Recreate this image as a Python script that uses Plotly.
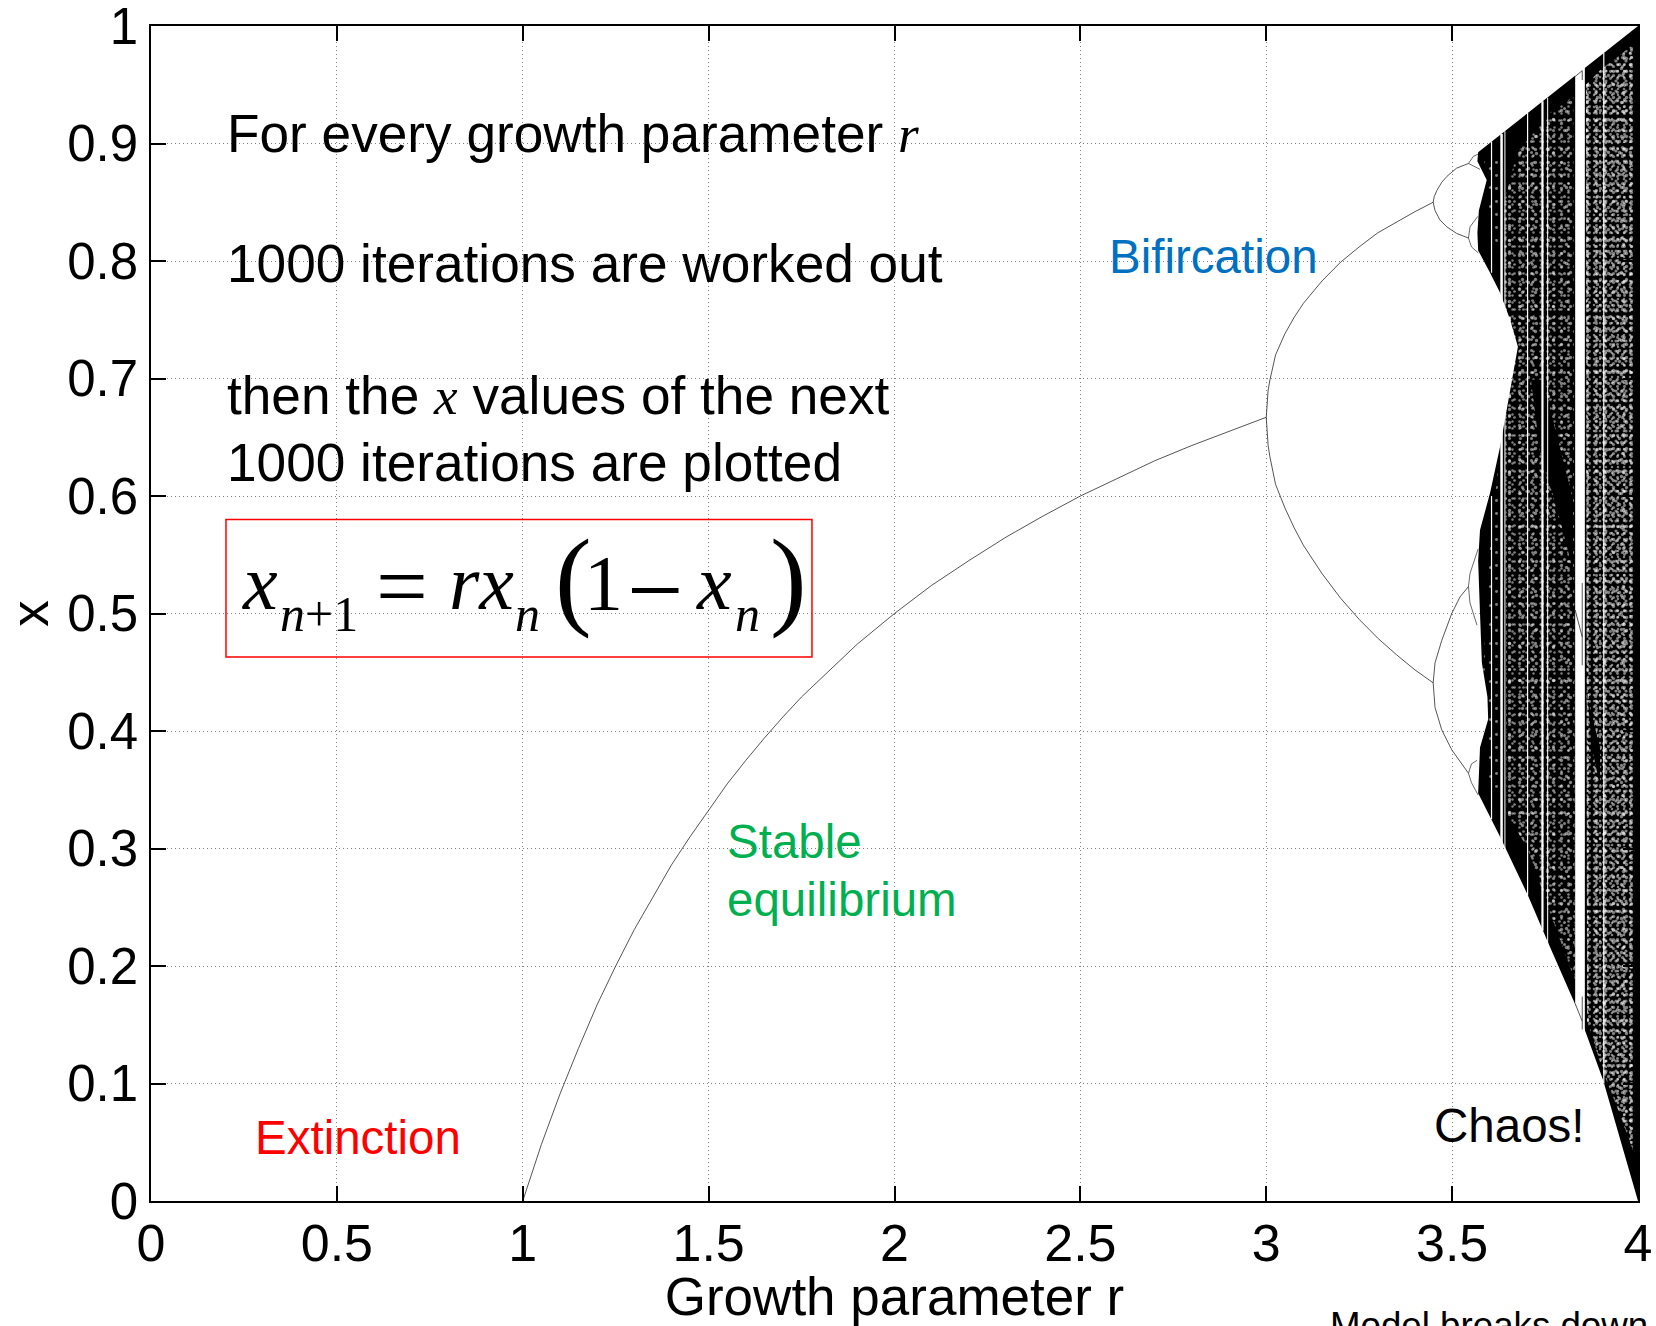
import plotly.graph_objects as go

FONT = "Liberation Sans"
SERIF = "Liberation Serif"

x_ticks = [0, 0.5, 1, 1.5, 2, 2.5, 3, 3.5, 4]
x_labels = ["0", "0.5", "1", "1.5", "2", "2.5", "3", "3.5", "4"]
y_ticks = [0, 0.1, 0.2, 0.3, 0.4, 0.5, 0.6, 0.7, 0.8, 0.9, 1]
y_labels = ["0", "0.1", "0.2", "0.3", "0.4", "0.5", "0.6", "0.7", "0.8", "0.9", "1"]

# stable equilibrium
stable_r = [1, 1.02, 1.05, 1.1, 1.15, 1.2, 1.25, 1.3, 1.35, 1.4, 1.45, 1.5, 1.55, 1.6, 1.65, 1.7, 1.75, 1.8, 1.85,
            1.9, 1.95, 2, 2.1, 2.2, 2.3, 2.4, 2.5, 2.6, 2.7, 2.8, 2.9, 3]
stable_x = [0, 0.02, 0.048, 0.091, 0.13, 0.167, 0.2, 0.231, 0.259, 0.286, 0.31, 0.333, 0.355, 0.375, 0.394, 0.412,
            0.429, 0.444, 0.459, 0.474, 0.487, 0.5, 0.524, 0.545, 0.565, 0.583, 0.6, 0.615, 0.63, 0.643, 0.655, 0.667]

# first split
fork_up_r = [3, 3.002, 3.005, 3.01, 3.025, 3.05, 3.075, 3.1, 3.15, 3.2, 3.25, 3.3, 3.35, 3.4, 3.449]
fork_up_x = [0.667, 0.682, 0.69, 0.699, 0.72, 0.738, 0.752, 0.764, 0.783, 0.799, 0.812, 0.824, 0.833, 0.842, 0.85]
fork_lo_r = [3, 3.002, 3.005, 3.01, 3.025, 3.05, 3.075, 3.1, 3.15, 3.2, 3.25, 3.3, 3.35, 3.4, 3.449]
fork_lo_x = [0.667, 0.651, 0.643, 0.633, 0.61, 0.59, 0.573, 0.558, 0.534, 0.513, 0.495, 0.479, 0.465, 0.452, 0.441]

# second split, four arcs
arc_a_r = [3.449, 3.452, 3.459, 3.472, 3.486, 3.512, 3.544]
arc_a_x = [0.85, 0.855, 0.86, 0.867, 0.872, 0.879, 0.883]
arc_b_r = [3.449, 3.454, 3.467, 3.486, 3.512, 3.544]
arc_b_x = [0.85, 0.843, 0.835, 0.829, 0.8235, 0.8195]
arc_c_r = [3.449, 3.454, 3.472, 3.499, 3.521, 3.544]
arc_c_x = [0.441, 0.458, 0.477, 0.5, 0.514, 0.523]
arc_d_r = [3.449, 3.454, 3.472, 3.499, 3.544]
arc_d_x = [0.441, 0.42, 0.401, 0.384, 0.364]

# third split, eight small arcs
twig_r = [
    [3.544, 3.557, 3.57], [3.544, 3.557, 3.575],
    [3.544, 3.548, 3.569], [3.544, 3.552, 3.57],
    [3.544, 3.548, 3.57], [3.544, 3.548, 3.567],
    [3.544, 3.552, 3.567], [3.544, 3.552, 3.57],
]
twig_x = [
    [0.883, 0.889, 0.891], [0.883, 0.881, 0.878],
    [0.8195, 0.829, 0.838], [0.8195, 0.812, 0.807],
    [0.523, 0.534, 0.555], [0.523, 0.509, 0.49],
    [0.364, 0.372, 0.375], [0.364, 0.356, 0.3455],
]

# outline of the chaotic region
chaos_r = [3.57, 4, 4, 3.906, 3.857, 3.83, 3.758, 3.704, 3.629, 3.602, 3.57, 3.575,
           3.597, 3.595, 3.58, 3.575, 3.57, 3.575, 3.602, 3.629, 3.656, 3.677, 3.656,
           3.629, 3.602, 3.57, 3.568, 3.572, 3.593, 3.575, 3.568]
chaos_x = [0.8925, 1, 0, 0.103, 0.1455, 0.168, 0.22, 0.26, 0.31, 0.327, 0.347, 0.386,
           0.41, 0.429, 0.458, 0.5, 0.545, 0.571, 0.6025, 0.642, 0.69, 0.727, 0.75,
           0.773, 0.79, 0.809, 0.824, 0.843, 0.869, 0.88, 0.885]

# speckled parts
sparse_r = [3.585, 3.64, 3.64, 3.6, 3.58, 3.6, 3.63, 3.66, 3.67, 3.6]
sparse_x = [0.89, 0.89, 0.33, 0.36, 0.43, 0.55, 0.645, 0.70, 0.74, 0.84]
mid_r = [3.64, 3.674, 3.763, 3.826, 3.83, 3.758, 3.703, 3.647]
mid_x = [0.85, 0.892, 0.926, 0.94, 0.188, 0.25, 0.30, 0.33]
right_r = [3.86, 3.9, 3.95, 3.99, 3.99, 3.95, 3.906, 3.863]
right_x = [0.95, 0.963, 0.975, 0.985, 0.04, 0.075, 0.11, 0.154]

# darker wedges inside the speckle
wedge_a_r = [3.712, 3.744, 3.825, 3.825, 3.79, 3.736]
wedge_a_x = [0.699, 0.699, 0.597, 0.537, 0.58, 0.639]
wedge_b_r = [3.857, 3.863, 3.898, 3.898, 3.876]
wedge_b_x = [0.458, 0.429, 0.386, 0.352, 0.386]

# white windows: r, width, then the x span of each
window_r = [3.606, 3.606, 3.633, 3.642, 3.703, 3.743, 3.757, 3.908]
window_w = [1.2, 1.2, 2.5, 1, 1.2, 2.2, 1, 1.2]
window_top = [0.9015, 0.60, 0.908, 0.9105, 0.926, 0.936, 0.939, 0.977]
window_bot = [0.79, 0.325, 0.302, 0.295, 0.26, 0.23, 0.218, 0.10]
period3_left = 3.831
period3_right = 3.857
period3_top = 0.965
period3_bot = 0.14

# lines inside the period-3 window
win_lines_r = [[3.85, 3.85], [3.85, 3.85], [3.85, 3.85], [3.831, 3.85], [3.831, 3.85], [3.831, 3.85]]
win_lines_x = [[0.962, 0.954], [0.526, 0.456], [0.174, 0.146], [0.957, 0.962], [0.503, 0.48], [0.168, 0.153]]

# red box around the equation
box_r = [0.2017, 1.778]
box_x = [0.463, 0.58]

fig = go.Figure()
INK = "#2a2a2a"


def curve(rs, xs, width=0.8):
    fig.add_trace(go.Scatter(x=rs, y=xs, mode="lines", line=dict(color=INK, width=width),
                             hoverinfo="skip", showlegend=False))


def patch(rs, xs, color="black"):
    fig.add_trace(go.Scatter(x=rs + rs[:1], y=xs + xs[:1], mode="lines", fill="toself", line=dict(width=0),
                             fillcolor=color, hoverinfo="skip", showlegend=False))


# speckle comes from dot patterns of unrelated pitch laid over each other
def speckle(rs, xs, layers):
    for size, solidity in layers:
        fig.add_trace(go.Scatter(x=rs + rs[:1], y=xs + xs[:1], mode="lines", fill="toself", line=dict(width=0),
                                 fillcolor="rgba(0,0,0,0)",
                                 fillpattern=dict(shape=".", size=size, solidity=solidity, fgcolor="white",
                                                  bgcolor="rgba(0,0,0,0)"),
                                 hoverinfo="skip", showlegend=False))


curve(stable_r, stable_x)
curve(fork_up_r, fork_up_x)
curve(fork_lo_r, fork_lo_x)
for rs, xs in [(arc_a_r, arc_a_x), (arc_b_r, arc_b_x), (arc_c_r, arc_c_x), (arc_d_r, arc_d_x)]:
    curve(rs, xs)
for rs, xs in zip(twig_r, twig_x):
    curve(rs, xs, 0.7)

patch(chaos_r, chaos_x)
speckle(sparse_r, sparse_x, [(13, 0.04), (19, 0.02)])
speckle(mid_r, mid_x, [(7, 0.1), (9, 0.07), (11, 0.06), (13, 0.05), (17, 0.03), (19, 0.025)])
speckle(right_r, right_x, [(6, 0.14), (7, 0.14), (9, 0.1), (10, 0.08), (11, 0.07), (13, 0.05), (17, 0.03), (19, 0.025)])
patch(wedge_a_r, wedge_a_x)
patch(wedge_b_r, wedge_b_x)

for r, w, top, bot in zip(window_r, window_w, window_top, window_bot):
    fig.add_trace(go.Scatter(x=[r, r], y=[bot, top], mode="lines", line=dict(color="white", width=w),
                             hoverinfo="skip", showlegend=False))
patch([period3_left, period3_right, period3_right, period3_left],
      [period3_top, period3_top, period3_bot, period3_bot], color="white")
for rs, xs in zip(win_lines_r, win_lines_x):
    fig.add_trace(go.Scatter(x=rs, y=xs, mode="lines", line=dict(color=INK, width=0.8),
                             hoverinfo="skip", showlegend=False))


def label(text, r, x, size=47.5, color="black", family=FONT):
    fig.add_annotation(x=r, y=x, text=text, showarrow=False, xanchor="left", yanchor="middle",
                       font=dict(family=family, size=size, color=color))


r_span = f"<span style=\"font-family:'{SERIF}';font-style:italic\">"
label(f"For every growth parameter {r_span}r</span>", 0.198, 0.908, 53.2)
label("1000 iterations are worked out", 0.198, 0.798, 53.2)
label(f"then the {r_span}x</span> values of the next", 0.198, 0.685, 53.2)
label("1000 iterations are plotted", 0.198, 0.6285, 53.2)
label("Bifircation", 2.572, 0.804, color="#0070C0")
label("Stable", 1.545, 0.306, color="#00B050")
label("equilibrium", 1.545, 0.257, color="#00B050")
label("Extinction", 0.275, 0.054, color="#FF0000")
label("Chaos!", 3.447, 0.064)
fig.add_annotation(x=3.165, y=-0.106, yref="paper", text="Model breaks down", showarrow=False, xanchor="left",
                   yanchor="middle", font=dict(family=FONT, size=36.7, color="black"))

# equation, piece by piece
eq_big = 78
eq_sub = 50
label("<i>x</i>", 0.24, 0.526, eq_big, family=SERIF)
label("<i>n</i>+1", 0.342, 0.5, eq_sub, family=SERIF)
label("=", 0.6, 0.523, 92, family=SERIF)
label("<i>rx</i>", 0.795, 0.526, eq_big, family=SERIF)
label("<i>n</i>", 0.975, 0.5, eq_sub, family=SERIF)
label("(", 1.082, 0.53, 110, family=SERIF)
label("1", 1.159, 0.526, eq_big, family=SERIF)
label("\u2212", 1.275, 0.52, 100, family=SERIF)
label("<i>x</i>", 1.46, 0.526, eq_big, family=SERIF)
label("<i>n</i>", 1.565, 0.5, eq_sub, family=SERIF)
label(")", 1.66, 0.53, 110, family=SERIF)

fig.add_shape(type="rect", x0=box_r[0], x1=box_r[1], y0=box_x[0], y1=box_x[1],
              line=dict(color="#FF0000", width=1.5))

axis = dict(showline=True, linecolor="black", linewidth=1.5, mirror="ticks", ticks="inside", ticklen=15,
            tickcolor="black", tickwidth=1.5, showgrid=True, gridcolor="#808080", griddash="1px,3px", gridwidth=1,
            zeroline=False, automargin=False, ticklabeloverflow="allow")
fig.update_layout(
    width=1656, height=1326,
    margin=dict(l=151, r=18, t=26, b=125),
    paper_bgcolor="white", plot_bgcolor="white", showlegend=False,
    xaxis=dict(axis, range=[0, 4], tickvals=x_ticks, ticktext=x_labels, ticklabelstandoff=-4,
               tickfont=dict(family=FONT, size=52, color="black"),
               title=dict(text="Growth parameter r", font=dict(family=FONT, size=53, color="black"), standoff=18)),
    yaxis=dict(axis, range=[0, 1], tickvals=y_ticks, ticktext=y_labels, ticklabelstandoff=1,
               tickfont=dict(family=FONT, size=51, color="black"),
               title=dict(text="x", font=dict(family=FONT, size=53, color="black"), standoff=23)),
)

fig.write_html("out.html", config=dict(displayModeBar=False),
               post_script="document.body.style.margin='0';document.body.style.overflow='hidden';")
